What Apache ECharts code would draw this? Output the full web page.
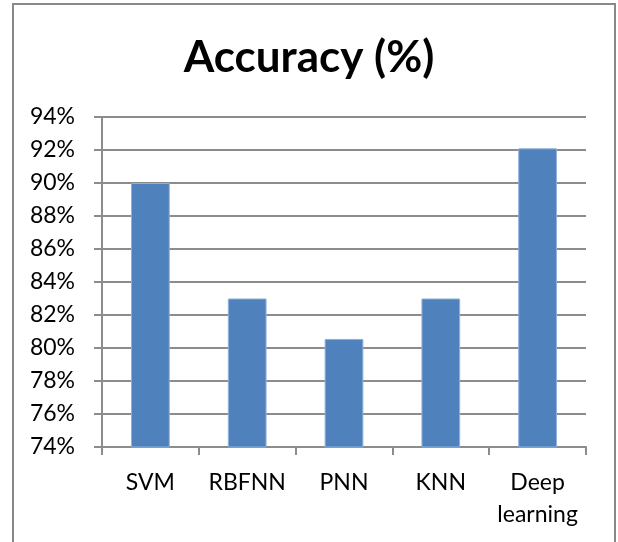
<!DOCTYPE html>
<html>
<head>
<meta charset="utf-8">
<script src="https://cdn.jsdelivr.net/npm/echarts@6/dist/echarts.min.js"></script>
<style>
  html, body { margin: 0; padding: 0; background: #fff; }
  #chart { width: 618px; height: 542px; }
</style>
</head>
<body>
<div id="chart"></div>
<script>
// categories and accuracy values (%)
const methods = ['SVM', 'RBFNN', 'PNN', 'KNN', 'Deep\nlearning']
const accuracy = [90.0, 83.0, 80.55, 83.0, 92.1]
const yMin = 74
const yMax = 94
const yStep = 2

const chart = echarts.init(document.getElementById('chart'))
const gridColor = '#8c8c8c'
const font = 'Lato, "Open Sans", sans-serif'

chart.setOption({
  backgroundColor: '#fff',
  animation: false,
  // outer chart frame
  graphic: [{
    type: 'rect',
    shape: { x: 13, y: 4, width: 602, height: 600 },
    style: { fill: 'none', stroke: '#898989', lineWidth: 2 }
  }],
  title: {
    text: 'Accuracy (%)',
    left: 'center',
    top: 31,
    textStyle: { fontFamily: font, fontWeight: 'bold', fontSize: 44, color: '#000' }
  },
  grid: { left: 102, right: 32, top: 117, bottom: 95, containLabel: false },
  xAxis: {
    type: 'category',
    data: methods,
    axisLine: { lineStyle: { color: gridColor, width: 2 } },
    axisTick: { show: true, alignWithLabel: false, length: 8, lineStyle: { color: gridColor, width: 2 } },
    axisLabel: { fontFamily: font, fontSize: 23, color: '#000', margin: 20, lineHeight: 32, interval: 0 }
  },
  yAxis: {
    type: 'value',
    min: yMin,
    max: yMax,
    interval: yStep,
    axisLine: { show: true, lineStyle: { color: gridColor, width: 2 } },
    axisTick: { show: true, length: 8, lineStyle: { color: gridColor, width: 2 } },
    splitLine: { lineStyle: { color: gridColor, width: 2 } },
    axisLabel: { fontFamily: font, fontSize: 23, color: '#000', margin: 27, formatter: '{value}%' }
  },
  series: [{
    type: 'bar',
    data: accuracy,
    barWidth: '40%',
    itemStyle: { color: '#4f81bd', borderColor: '#8eb0da', borderWidth: 1 }
  }]
})
</script>
</body>
</html>
